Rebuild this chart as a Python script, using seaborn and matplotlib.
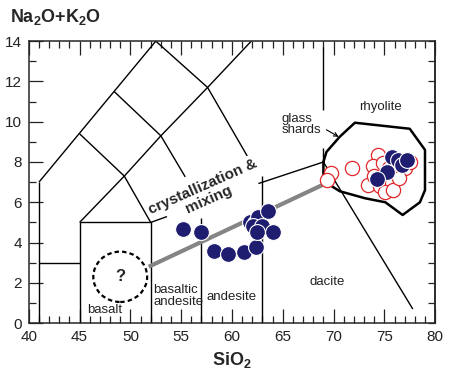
import numpy as np
import pandas as pd
import matplotlib
matplotlib.use('Agg')
import matplotlib.pyplot as plt
import seaborn as sns
from matplotlib.patches import Ellipse
from matplotlib.ticker import MultipleLocator

# ── Data ────────────────────────────────────────────────────────────────
# TAS field boundaries as drawn (segments cut where labels sit)
tas_segments = [
    ([41, 41], [0, 7]),
    ([41, 45], [3, 3]),
    ([45, 45], [0, 5]),
    ([45, 52], [5, 5]),
    ([52, 52], [0, 5]),
    ([52, 53.6], [5, 5.29]),
    ([57, 57], [0, 5.2]),
    ([63, 63], [0, 7.3]),
    ([62.6, 69], [6.93, 8]),
    ([41, 52.5], [7, 14]),
    ([45, 49.4, 52], [5, 7.3, 5]),
    ([45, 49.4], [9.4, 7.3]),
    ([49.4, 53, 57.6, 61.9], [7.3, 9.3, 11.7, 14]),
    ([48.4, 53, 55.4], [11.5, 9.3, 7.26]),
    ([52.5, 57.6, 61.5], [14, 11.7, 8.3]),
    ([69, 69], [8, 8.7]),
    ([69, 69], [10.6, 13.7]),
    ([69, 77.8], [8, 0.7]),
]

# rhyolite glass-shard field outline
rhy_x = [69.0, 69.3, 70.6, 72.1, 77.5, 79.0, 79.0, 78.5, 76.8, 75.1, 73.1, 70.6, 69.5, 69.0, 69.0]
rhy_y = [8.0, 8.5, 9.25, 9.95, 9.65, 8.6, 6.6, 6.0, 5.37, 6.0, 6.2, 6.55, 6.9, 7.4, 8.0]

# whole-rock samples (filled)
rock_sio2 = [55.2, 57.0, 58.2, 59.6, 61.2, 62.4, 61.8, 62.3, 62.6, 63.5, 62.1, 63.0,
             62.5, 64.0, 75.8, 76.3, 76.7, 77.2, 75.3, 74.3]
rock_alk = [4.68, 4.53, 3.58, 3.43, 3.53, 3.78, 5.0, 4.97, 5.27, 5.55, 4.83, 4.83,
            4.53, 4.53, 8.26, 8.1, 7.86, 8.1, 7.5, 7.16]

# glass shards (open)
glass_sio2 = [69.7, 69.4, 71.8, 74.4, 73.9, 74.9, 75.5, 76.1, 77.0, 77.5, 73.4, 74.6,
              75.8, 75.1, 75.9, 74.0, 76.4]
glass_alk = [7.45, 7.1, 7.7, 8.36, 7.81, 7.96, 7.7, 7.5, 7.7, 8.0, 6.87, 6.8,
             6.97, 6.52, 6.6, 7.3, 7.2]

# crystallization & mixing trend
trend_x = [51.8, 69.5]
trend_y = [2.8, 7.0]

# ── Styling ─────────────────────────────────────────────────────────────
sns.set_style('ticks')
plt.rcParams['font.family'] = ['Liberation Sans', 'DejaVu Sans']
plt.rcParams['mathtext.fontset'] = 'custom'
plt.rcParams['mathtext.rm'] = 'Liberation Sans'
plt.rcParams['mathtext.bf'] = 'Liberation Sans:bold'
NAVY = '#1f1d70'
RED = '#e0282c'

fig = plt.figure(figsize=(4.5, 3.74), dpi=100)
fig.patch.set_facecolor('white')
ax = fig.add_axes([0.064, 0.136, 0.903, 0.754])

for xs, ys in tas_segments:
    ax.plot(xs, ys, color='black', lw=1.0, solid_capstyle='butt', zorder=2)

ax.plot(rhy_x, rhy_y, color='black', lw=1.8, solid_joinstyle='round', zorder=2)
ax.plot(trend_x, trend_y, color='#858585', lw=3.0, solid_capstyle='butt', zorder=3)

ax.add_patch(Ellipse((49.0, 2.3), 5.3, 2.5, fill=False, ls=(0, (2.0, 1.4)),
                     lw=1.6, color='black', zorder=3))
ax.text(49.0, 2.3, '?', ha='center', va='center', fontsize=12, fontweight='bold')

glass = pd.DataFrame({'SiO2': glass_sio2, 'alk': glass_alk})
rock = pd.DataFrame({'SiO2': rock_sio2, 'alk': rock_alk})
sns.scatterplot(data=glass, x='SiO2', y='alk', ax=ax, s=105, facecolor='white',
                edgecolor=RED, linewidth=0.9, zorder=4)
sns.scatterplot(data=rock, x='SiO2', y='alk', ax=ax, s=130, color=NAVY,
                edgecolor='white', linewidth=0.8, zorder=5)

# field labels
lab = dict(fontsize=9.5, color='#222222')
ax.text(74.6, 10.75, 'rhyolite', ha='center', va='center', **lab)
ax.text(69.4, 2.05, 'dacite', ha='center', va='center', **lab)
ax.text(60.0, 1.3, 'andesite', ha='center', va='center', **lab)
ax.text(52.25, 1.35, 'basaltic\nandesite', ha='left', va='center', linespacing=0.95, **lab)
ax.text(47.5, 0.65, 'basalt', ha='center', va='center', **lab)
ax.text(64.9, 9.85, 'glass\nshards', ha='left', va='center', linespacing=0.9, **lab)
ax.annotate('', xy=(70.5, 9.25), xytext=(69.3, 9.6),
            arrowprops=dict(arrowstyle='->', lw=0.8, color='black',
                            shrinkA=0, shrinkB=0, mutation_scale=7))
ax.text(57.4, 6.45, 'crystallization &\nmixing', ha='center', va='center',
        rotation=24, rotation_mode='anchor', fontsize=11, fontweight='bold',
        linespacing=0.95)

# axes
ax.set_xlim(40, 80)
ax.set_ylim(0, 14)
ax.xaxis.set_major_locator(MultipleLocator(5))
ax.xaxis.set_minor_locator(MultipleLocator(1))
ax.yaxis.set_major_locator(MultipleLocator(2))
ax.yaxis.set_minor_locator(MultipleLocator(1))
ax.tick_params(which='both', direction='in', top=True, right=False,
               labelsize=11, width=0.9, pad=5, colors='#222222')
ax.tick_params(which='major', length=10)
ax.tick_params(which='minor', length=5)
sec = ax.secondary_yaxis('right')
sec.yaxis.set_major_locator(MultipleLocator(1))
sec.tick_params(direction='in', length=5, width=0.9, labelright=False)
for sp in list(ax.spines.values()) + [sec.spines['right']]:
    sp.set_linewidth(1.1)
    sp.set_visible(True)

ax.set_xlabel(r'$\mathbf{SiO_2}$', fontsize=13, labelpad=4)
ax.set_ylabel('')
fig.text(0.022, 0.955, r'$\mathbf{Na_2O{+}K_2O}$', fontsize=13, ha='left', va='center')

plt.savefig('out.png', dpi=100, facecolor='white')
plt.close()
